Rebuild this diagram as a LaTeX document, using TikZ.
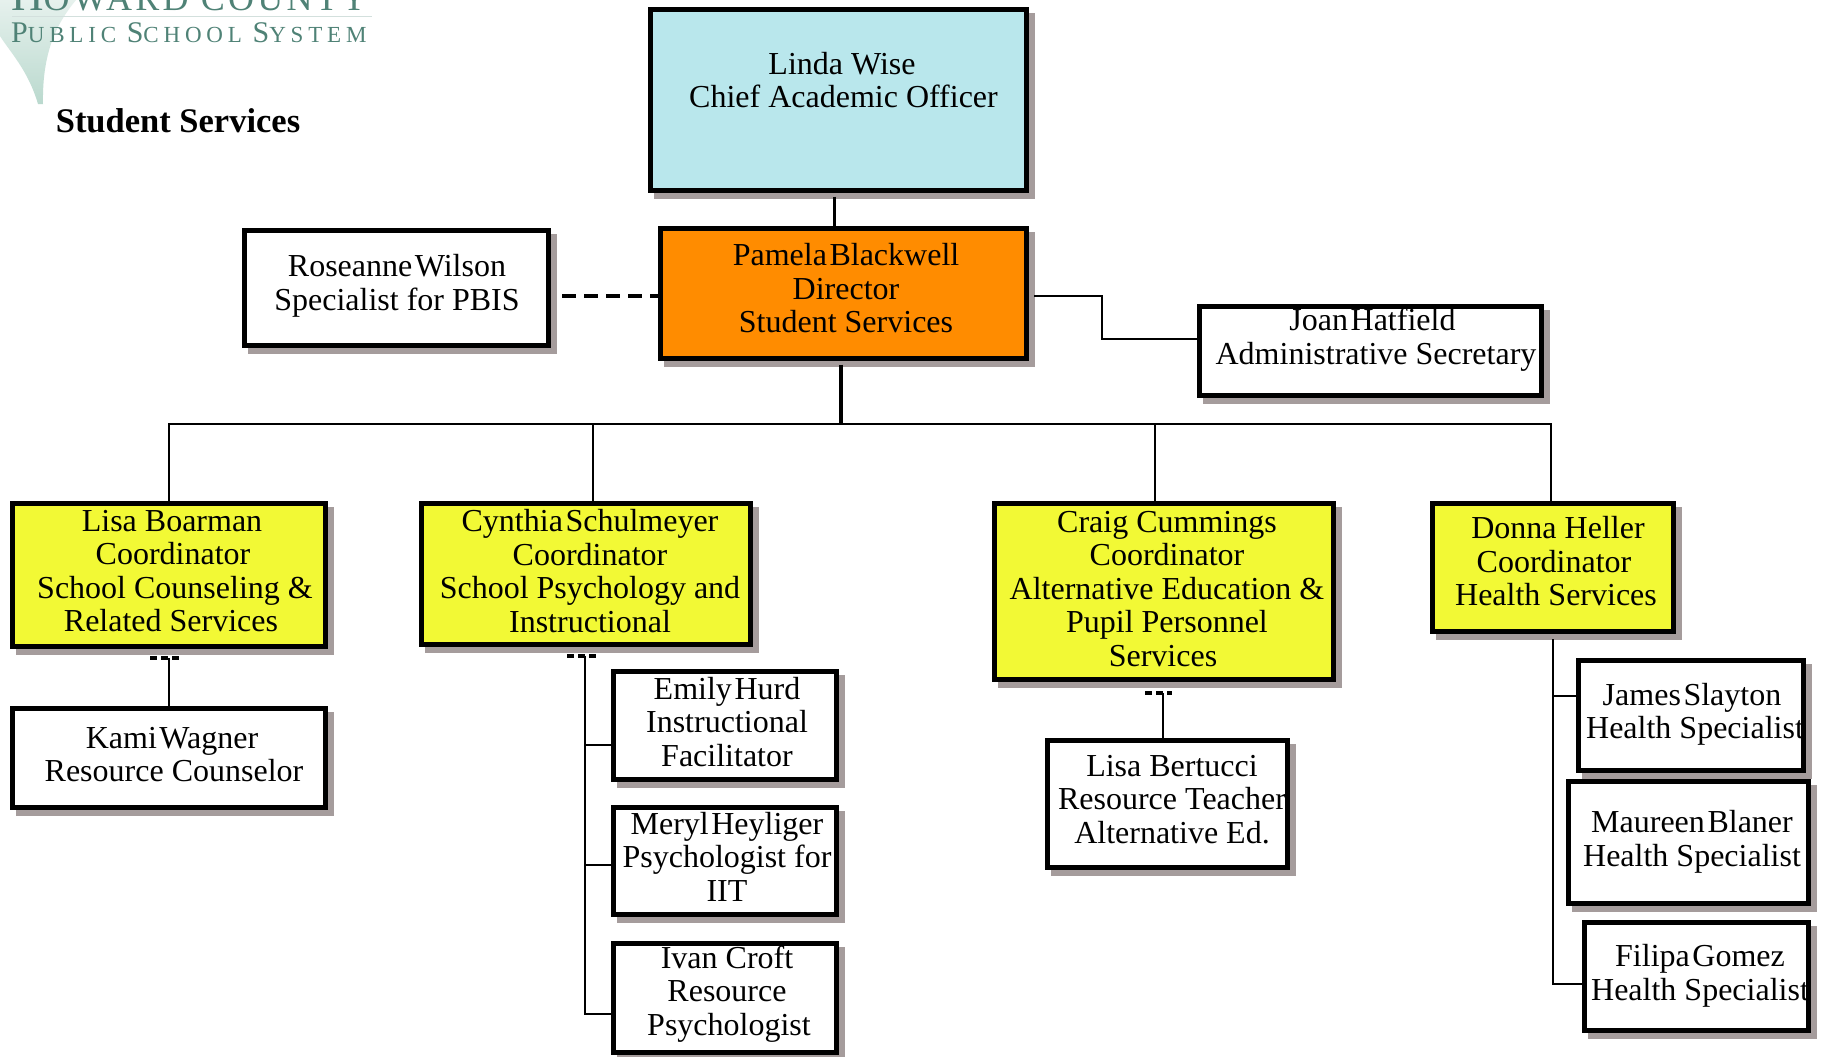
\documentclass[tikz,border=0pt]{standalone}
\usepackage{fontspec}
\setmainfont{Liberation Serif}
\newfontfamily\logofont[LetterSpace=21]{Liberation Serif}
\newfontfamily\logotopfont[LetterSpace=9]{Liberation Serif}
\definecolor{shadowc}{HTML}{A59C9C}
\definecolor{bluec}{HTML}{B9E7EC}
\definecolor{orangec}{HTML}{FF8C00}
\definecolor{yellowc}{HTML}{F2F935}
\definecolor{logoc}{HTML}{4F8276}
\definecolor{swooshtop}{HTML}{E6F1ED}
\definecolor{swooshbot}{HTML}{BAD9CE}
\newcommand{\nsp}{\hskip0.08em\relax}
\newcommand{\padr}[1]{\rule{#1pt}{0pt}}
\newcommand{\orgbox}[7]{% name x1 y1 x2 y2 fill (text set after)
  \fill[shadowc] ({#2+6},{#3+6}) rectangle ({#4+6},{#5+6});
  \pgfmathsetmacro{\bw}{#4-#2-5}
  \pgfmathsetmacro{\bh}{#5-#3-5}
  \node[boxnode,fill=#6,minimum width=\bw pt,minimum height=\bh pt] (#1) at ({(#2+#4)/2},{(#3+#5)/2}) {};
  #7
  \draw[boxborder] (#1.north west) rectangle (#1.south east);
}
\tikzset{
  boxnode/.style={draw=none,inner sep=0pt,outer sep=0pt},
  boxborder/.style={line width=5.4pt,line join=miter},
  boxtext/.style={align=center,inner sep=0pt,font=\fontsize{32}{33.5}\selectfont},
  link/.style={line width=2.8pt,line cap=butt},
  linkthick/.style={line width=3.8pt},
  dashlink/.style={line width=3.5pt,dash pattern=on 14pt off 8pt},
  tick/.style={line width=3.4pt,dash pattern=on 7pt off 4pt},
}
\begin{document}
\begin{tikzpicture}[x=1pt,y=-1pt]
\useasboundingbox (0,0) rectangle (1824,1057);
\fill[white] (0,0) rectangle (1824,1057);
% logo
\begin{scope}
\clip (0,0) rectangle (400,120);
\shade[top color=swooshtop,bottom color=swooshbot,draw=none]
  (0,0) -- (76,0) .. controls (58,22) and (42,50) .. (43,104) -- (38,104)
  .. controls (28,70) and (10,52) .. (0,36) -- cycle;
\draw[logoc!25!white,line width=1pt] (12,17) -- (372,17);
\node[anchor=base west,inner sep=0pt,text=logoc] (logotop) at (11,11)
  {\logotopfont\fontsize{45}{45}\selectfont H\fontsize{36}{36}\selectfont OWARD C\fontsize{36}{36}\selectfont OUNTY};
\node[anchor=base west,inner sep=0pt,text=logoc] (logobot) at (11,43)
  {\logofont\fontsize{30}{30}\selectfont P\fontsize{23}{23}\selectfont UBLIC \fontsize{30}{30}\selectfont S\fontsize{23}{23}\selectfont CHOOL \fontsize{30}{30}\selectfont S\fontsize{23}{23}\selectfont YSTEM};
\end{scope}
\node[inner sep=0pt,font=\fontsize{34.5}{36}\selectfont\bfseries] (title) at (178,121) {Student Services};
% boxes
\orgbox{linda}{648}{7}{1029}{193}{bluec}{\node[boxtext] (lindat) at (842,80) {Linda Wise\\\hspace*{3pt}Chief Academic Officer};}
\orgbox{pamela}{658}{226}{1029}{361}{orangec}{\node[boxtext] (pamelat) at (846,288.5) {Pamela\nsp Blackwell\\Director\\Student Services};}
\orgbox{roseanne}{242}{228}{551}{348}{white}{\node[boxtext] (roseannet) at (397,286) {Roseanne\nsp Wilson\\Specialist for PBIS};}
\orgbox{joan}{1197}{304}{1544}{398}{white}{\node[boxtext] (joant) at (1376,339.5) {Joan\nsp Hatfield\padr{7}\\Administrative Secretary};}
\orgbox{lisab}{10}{501}{328}{649}{yellowc}{\node[boxtext] (lisabt) at (173,571) {\padr{3}Lisa Boarman\padr{5}\\Coordinator\\\hspace*{4pt}School Counseling \&\\Related Services\padr{4}};}
\orgbox{kami}{10}{706}{328}{810}{white}{\node[boxtext] (kamit) at (174,754.5) {Kami\nsp Wagner\padr{4}\\Resource Counselor};}
\orgbox{cynthia}{419}{501}{753}{647}{yellowc}{\node[boxtext] (cynthiat) at (590,571) {Cynthia\nsp Schulmeyer\\Coordinator\\School Psychology and\\Instructional};}
\orgbox{emily}{611}{669}{839}{782}{white}{\node[boxtext] (emilyt) at (727,722) {Emily\nsp Hurd\\Instructional\\Facilitator};}
\orgbox{meryl}{611}{805}{839}{917}{white}{\node[boxtext] (merylt) at (727,856.5) {Meryl\nsp Heyliger\\Psychologist for\\IIT};}
\orgbox{ivan}{611}{941}{839}{1055}{white}{\node[boxtext] (ivant) at (727,994) {Ivan Croft\\Resource\\\hspace*{4pt}Psychologist};}
\orgbox{craig}{992}{501}{1336}{682}{yellowc}{\node[boxtext] (craigt) at (1167,589) {Craig Cummings\\Coordinator\\Alternative Education \&\\Pupil Personnel\\Services\padr{8}};}
\orgbox{bertucci}{1045}{738}{1290}{870}{white}{\node[boxtext] (bertuccit) at (1172,799.5) {Lisa Bertucci\\Resource Teacher\\Alternative Ed.};}
\orgbox{donna}{1430}{501}{1676}{634}{yellowc}{\node[boxtext] (donnat) at (1556,561.5) {\hspace*{4pt}Donna Heller\\Coordinator\padr{4}\\Health Services};}
\orgbox{james}{1576}{658}{1806}{773}{white}{\node[boxtext] (jamest) at (1695,714.5) {James\nsp Slayton\padr{6}\\Health Specialist};}
\orgbox{maureen}{1566}{779}{1811}{906}{white}{\node[boxtext] (maureent) at (1692,842) {Maureen\nsp Blaner\\Health Specialist};}
\orgbox{filipa}{1582}{920}{1811}{1033}{white}{\node[boxtext] (filipat) at (1700,976) {Filipa\nsp Gomez\\Health Specialist};}
% connectors
\coordinate (bus) at (841,424);
\draw[link] ([xshift=-4pt,yshift=-6pt]linda.south) -- ([xshift=-4pt]linda.south |- pamela.north);
\draw[linkthick] ([yshift=-6pt]bus |- pamela.south) -- (bus);
\draw[link] (169,424 |- lisab.north) |- (bus);
\draw[link] (593,424 |- cynthia.north) -- (593,424);
\draw[link] (1155,424 |- craig.north) -- (1155,424);
\draw[link] (1551,424 |- donna.north) |- (bus);
\coordinate (dashend) at (562,296);
\draw[dashlink] (dashend) -- (dashend -| pamela.west);
\coordinate (pamout) at (1034,296);
\draw[link] (pamout) -| (1102,339) -- (joan.west |- 0,339);
\coordinate (t1) at (150,658);\coordinate (t1e) at (180,658);
\draw[tick] (t1) -- (t1e);
\draw[link] (169,658) -- (169,658 |- kami.north);
\coordinate (t2) at (567,656);\coordinate (t2e) at (597,656);
\draw[tick] (t2) -- (t2e);
\draw[link] (585,656) -- (585,1014) -- (ivan.west |- 0,1014);
\draw[link] (585,745) -- (emily.west |- 0,745);
\draw[link] (585,865) -- (meryl.west |- 0,865);
\coordinate (t3) at (1145,693);\coordinate (t3e) at (1172,693);
\draw[tick] (t3) -- (t3e);
\draw[link] (1163,693) -- (1163,693 |- bertucci.north);
\coordinate (dn) at (1553,639);
\draw[link] (dn) -- (1553,984) -- (filipa.west |- 0,984);
\draw[link] (1553,696) -- (james.west |- 0,696);
\end{tikzpicture}
\end{document}
